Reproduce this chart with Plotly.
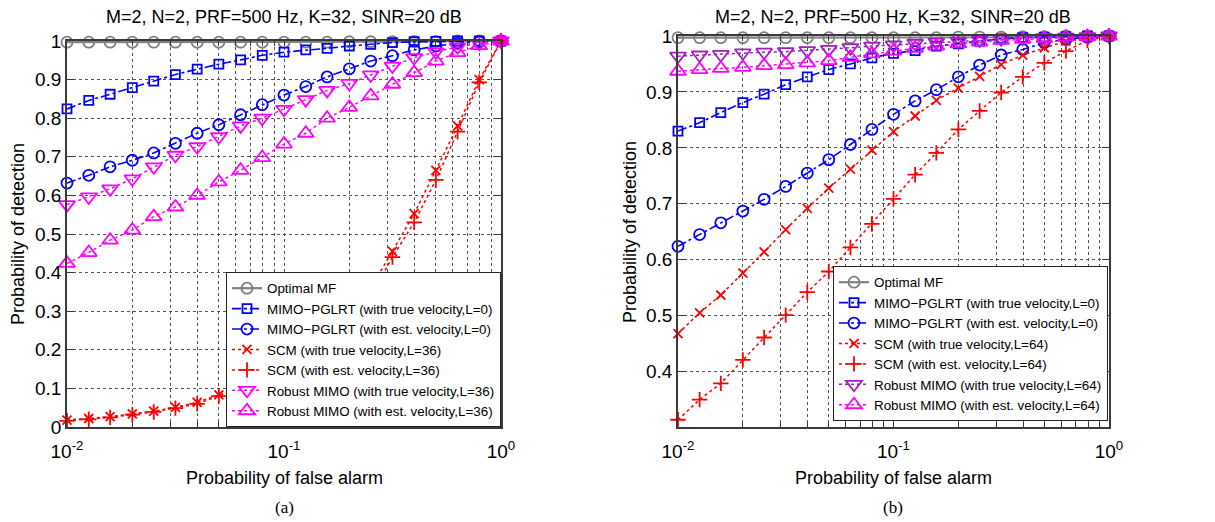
import plotly.graph_objects as go

# ---------------- data ----------------
pfa = [0.01, 0.0126, 0.0158, 0.02, 0.0251, 0.0316, 0.0398, 0.0501, 0.0631, 0.0794,
       0.1, 0.126, 0.158, 0.2, 0.251, 0.316, 0.398, 0.501, 0.631, 0.794, 1.0]

# (a) L=36
a_opt = [0.997, 0.997, 0.997, 0.997, 0.997, 0.997, 0.997, 0.997, 0.997, 0.997,
         0.997, 0.997, 0.997, 0.998, 0.998, 0.998, 0.999, 0.999, 1.0, 1.0, 1.0]
a_pglrt_true = [0.824, 0.846, 0.862, 0.879, 0.896, 0.913, 0.927, 0.940, 0.951, 0.963,
                0.971, 0.977, 0.981, 0.987, 0.991, 0.996, 0.998, 0.999, 1.0, 1.0, 1.0]
a_pglrt_est = [0.632, 0.652, 0.674, 0.691, 0.710, 0.735, 0.761, 0.783, 0.809, 0.835,
               0.860, 0.882, 0.907, 0.928, 0.948, 0.962, 0.977, 0.987, 0.994, 0.998, 1.0]
a_scm_true = [0.018, 0.022, 0.027, 0.034, 0.041, 0.051, 0.064, 0.083, 0.100, 0.120,
              0.140, 0.170, 0.220, 0.280, 0.360, 0.455, 0.553, 0.665, 0.780, 0.900, 1.0]
a_scm_est = [0.016, 0.020, 0.025, 0.032, 0.039, 0.049, 0.060, 0.080, 0.097, 0.115,
             0.135, 0.160, 0.200, 0.260, 0.340, 0.440, 0.530, 0.640, 0.765, 0.893, 1.0]
a_rob_true = [0.576, 0.596, 0.617, 0.643, 0.674, 0.704, 0.726, 0.752, 0.780, 0.800,
              0.823, 0.848, 0.872, 0.890, 0.912, 0.935, 0.957, 0.972, 0.985, 0.994, 1.0]
a_rob_est = [0.424, 0.452, 0.484, 0.510, 0.545, 0.570, 0.600, 0.635, 0.665, 0.698,
             0.733, 0.761, 0.800, 0.828, 0.858, 0.888, 0.918, 0.948, 0.970, 0.988, 1.0]

# (b) L=64
b_opt = [0.997, 0.997, 0.997, 0.997, 0.997, 0.997, 0.997, 0.997, 0.997, 0.997,
         0.997, 0.997, 0.997, 0.998, 0.998, 0.998, 0.999, 0.999, 1.0, 1.0, 1.0]
b_pglrt_true = [0.830, 0.845, 0.863, 0.881, 0.896, 0.913, 0.927, 0.940, 0.950, 0.961,
                0.969, 0.974, 0.982, 0.986, 0.991, 0.995, 0.997, 0.998, 0.999, 1.0, 1.0]
b_pglrt_est = [0.624, 0.645, 0.666, 0.687, 0.708, 0.731, 0.755, 0.779, 0.806, 0.833,
               0.860, 0.884, 0.904, 0.927, 0.948, 0.966, 0.976, 0.988, 0.994, 0.998, 1.0]
b_scm_true = [0.468, 0.505, 0.537, 0.576, 0.614, 0.654, 0.692, 0.728, 0.762, 0.796,
              0.829, 0.857, 0.885, 0.907, 0.928, 0.949, 0.966, 0.979, 0.991, 0.997, 1.0]
b_scm_est = [0.314, 0.350, 0.379, 0.421, 0.461, 0.501, 0.542, 0.579, 0.622, 0.664,
             0.709, 0.752, 0.791, 0.833, 0.866, 0.899, 0.927, 0.952, 0.973, 0.992, 1.0]
b_rob_true = [0.964, 0.966, 0.967, 0.970, 0.971, 0.972, 0.974, 0.976, 0.979, 0.982,
              0.984, 0.987, 0.989, 0.991, 0.993, 0.995, 0.996, 0.997, 0.998, 0.999, 1.0]
b_rob_est = [0.937, 0.940, 0.942, 0.944, 0.947, 0.949, 0.952, 0.956, 0.962, 0.968,
             0.973, 0.978, 0.982, 0.986, 0.989, 0.992, 0.994, 0.996, 0.998, 0.999, 1.0]

names_a = ["Optimal MF",
           "MIMO\u2212PGLRT (with true velocity,L=0)",
           "MIMO\u2212PGLRT (with est. velocity,L=0)",
           "SCM (with true velocity,L=36)",
           "SCM (with est. velocity,L=36)",
           "Robust MIMO (with true velocity,L=36)",
           "Robust MIMO (with est. velocity,L=36)"]
names_b = ["Optimal MF",
           "MIMO\u2212PGLRT (with true velocity,L=0)",
           "MIMO\u2212PGLRT (with est. velocity,L=0)",
           "SCM (with true velocity,L=64)",
           "SCM (with est. velocity,L=64)",
           "Robust MIMO (with true velocity,L=64)",
           "Robust MIMO (with est. velocity,L=64)"]

title_text = "M=2, N=2, PRF=500 Hz, K=32, SINR=20 dB"
xticks_major = [0.01, 0.1, 1.0]
xticks_text = ["10<sup>-2</sup>", "10<sup>-1</sup>", "10<sup>0</sup>"]
a_yticks = [0, 0.1, 0.2, 0.3, 0.4, 0.5, 0.6, 0.7, 0.8, 0.9, 1]
b_yticks = [0.4, 0.5, 0.6, 0.7, 0.8, 0.9, 1]

# ---------------- styles ----------------
GRAY = "#808080"
BLUE = "#0000FF"
RED = "#FF0000"
MAG = "#FF00FF"
PURP = "#A020C0"
FONT = "Liberation Sans, Arial, sans-serif"

# the page body has an 8px margin, so the figure is drawn 8px in from the corner
OFF = 8
W, H = 1215 - OFF, 522 - OFF


def px_x(p):
    return (p - OFF) / W


def px_y(p):
    return 1 - (p - OFF) / H


fig = go.Figure()


def add_panel(xa, ya, leg, names, series, rob_true_color):
    styles = [
        dict(color=GRAY, dash="solid", width=2.2, symbol="circle-open", size=11),
        dict(color=BLUE, dash="dashdot", width=1.6, symbol="square-open", size=9),
        dict(color=BLUE, dash="dashdot", width=1.6, symbol="circle-open", size=11),
        dict(color=RED, dash="dot", width=1.5, symbol="x-thin-open", size=9),
        dict(color=RED, dash="dot", width=1.5, symbol="cross-thin-open", size=11),
        dict(color=rob_true_color, dash="dot", width=1.5, symbol="triangle-down-open", size=14),
        dict(color=MAG, dash="dot", width=1.5, symbol="triangle-up-open", size=14),
    ]
    for name, ys, st in zip(names, series, styles):
        fig.add_trace(go.Scatter(
            x=pfa, y=ys, name=name, mode="lines+markers",
            xaxis=xa, yaxis=ya, legend=leg, cliponaxis=False,
            line=dict(color=st["color"], dash=st["dash"], width=st["width"]),
            marker=dict(symbol=st["symbol"], size=st["size"], color=st["color"],
                        line=dict(color=st["color"], width=1.8)),
        ))


add_panel("x", "y", "legend", names_a,
          [a_opt, a_pglrt_true, a_pglrt_est, a_scm_true, a_scm_est, a_rob_true, a_rob_est], MAG)
add_panel("x2", "y2", "legend2", names_b,
          [b_opt, b_pglrt_true, b_pglrt_est, b_scm_true, b_scm_est, b_rob_true, b_rob_est], PURP)

# x ticks at every decade subdivision (for the log grid)
xt_vals, xt_text = [], []
for d in [0.01, 0.1]:
    for k in range(1, 10):
        v = round(k * d, 4)
        xt_vals.append(v)
        xt_text.append(xticks_text[xticks_major.index(d)] if k == 1 else "")
xt_vals.append(1.0)
xt_text.append(xticks_text[2])

common_x = dict(type="log", range=[-2, 0], tickvals=xt_vals, ticktext=xt_text,
                showgrid=True, griddash="dot", gridcolor="#555555", gridwidth=1,
                showline=True, linecolor="#3a3a3a", linewidth=1.5, mirror="ticks",
                ticks="inside", ticklen=5, tickcolor="#3a3a3a", automargin=False,
                ticklabelstandoff=6,
                tickfont=dict(family=FONT, size=19, color="black"), zeroline=False)
common_y = dict(showgrid=True, griddash="dot", gridcolor="#555555", gridwidth=1,
                showline=True, linecolor="#3a3a3a", linewidth=1.5, mirror="ticks",
                ticks="inside", ticklen=7, tickcolor="#3a3a3a", automargin=False,
                tickfont=dict(family=FONT, size=19, color="black"), zeroline=False)

leg_common = dict(xanchor="right", yanchor="bottom", bgcolor="white",
                  bordercolor="#222222", borderwidth=1, tracegroupgap=0,
                  font=dict(family=FONT, size=13.4, color="black"))

fig.update_layout(
    template="none",
    width=W, height=H, margin=dict(l=0, r=0, t=0, b=0, autoexpand=False),
    paper_bgcolor="white", plot_bgcolor="white",
    xaxis=dict(domain=[px_x(67), px_x(501)], anchor="y", **common_x),
    yaxis=dict(domain=[px_y(427), px_y(41)], anchor="x", range=[0, 1],
               tickvals=a_yticks, ticktext=[f"{v:g}" for v in a_yticks], **common_y),
    xaxis2=dict(domain=[px_x(678), px_x(1109)], anchor="y2", **common_x),
    yaxis2=dict(domain=[px_y(427), px_y(36)], anchor="x2", range=[0.301, 1],
                tickvals=b_yticks, ticktext=[f"{v:g}" for v in b_yticks], **common_y),
    legend=dict(x=px_x(501), y=px_y(427), **leg_common),
    legend2=dict(x=px_x(1108), y=px_y(421), **leg_common),
    showlegend=True,
)

ann = []
for cx, lab in [(284, "(a)"), (893, "(b)")]:
    ann.append(dict(x=px_x(cx), y=px_y(17), xref="paper", yref="paper", text=title_text,
                    xanchor="center", yanchor="middle",
                    showarrow=False, font=dict(family=FONT, size=18, color="black")))
    ann.append(dict(x=px_x(cx), y=px_y(478), xref="paper", yref="paper",
                    xanchor="center", yanchor="middle",
                    text="Probability of false alarm", showarrow=False,
                    font=dict(family=FONT, size=18, color="black")))
    ann.append(dict(x=px_x(cx), y=px_y(507), xref="paper", yref="paper", text=lab,
                    xanchor="center", yanchor="middle", showarrow=False,
                    font=dict(family="Liberation Serif, Times New Roman, serif", size=17,
                              color="black")))
for cx, cy in [(18, 234), (630, 232)]:
    ann.append(dict(x=px_x(cx), y=px_y(cy), xref="paper", yref="paper",
                    xanchor="center", yanchor="middle",
                    text="Probability of detection", textangle=-90, showarrow=False,
                    font=dict(family=FONT, size=18, color="black")))
fig.update_layout(annotations=ann)

fig.write_html("out.html")
